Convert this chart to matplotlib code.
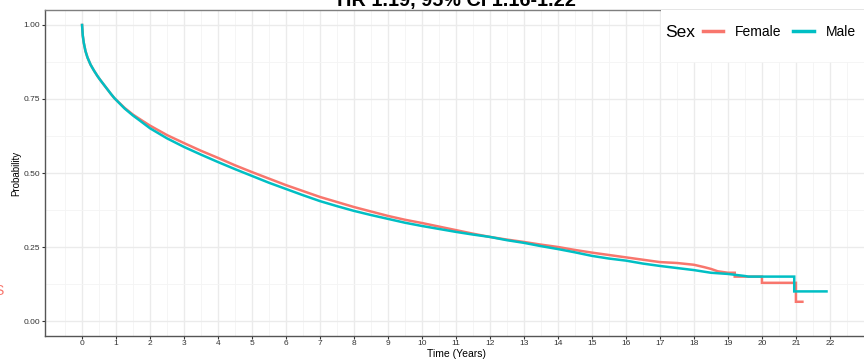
import matplotlib
matplotlib.use("Agg")
import matplotlib.pyplot as plt
from matplotlib.patches import Rectangle
from matplotlib.lines import Line2D
import numpy as np

plt.rcParams['font.family'] = ['Liberation Sans', 'DejaVu Sans']

# Kaplan-Meier style curves
female_t = [0, 0.02, 0.05, 0.1, 0.16, 0.25, 0.35, 0.45, 0.53, 0.65, 0.75, 0.85, 0.95, 1.25, 1.5, 1.7, 2,
            2.5, 3, 3.5, 4, 4.5, 5, 5.5, 6, 6.5, 7, 7.5, 8, 8.5, 9, 9.5, 10,
            10.5, 11, 11.5, 12, 12.5, 13, 13.5, 14, 14.5, 15, 15.5, 16, 16.5,
            17, 17.5, 18, 18.3, 18.5, 18.7, 19, 19.2, 19.2, 20, 20, 21, 21, 21.19]
female_s = [1.0, 0.965, 0.94, 0.912, 0.89, 0.866, 0.846, 0.828, 0.815, 0.797, 0.782, 0.767, 0.753,
            0.72, 0.697, 0.682, 0.66,
            0.628, 0.601, 0.575, 0.551, 0.526, 0.503, 0.481, 0.459, 0.439, 0.419, 0.402, 0.385, 0.37, 0.355, 0.342, 0.331,
            0.319, 0.307, 0.295, 0.284, 0.275, 0.267, 0.258, 0.25, 0.24, 0.231, 0.223, 0.215, 0.207,
            0.199, 0.196, 0.19, 0.182, 0.176, 0.168, 0.163, 0.163, 0.15, 0.15, 0.129, 0.129, 0.065, 0.065]

male_t = [0, 0.02, 0.05, 0.1, 0.16, 0.25, 0.35, 0.45, 0.53, 0.65, 0.75, 0.85, 0.95, 1.25, 1.5, 1.7, 2,
          2.5, 3, 3.5, 4, 4.5, 5, 5.5, 6, 6.5, 7, 7.5, 8, 8.5, 9, 9.5, 10,
          10.5, 11, 11.5, 12, 12.5, 13, 13.5, 14, 14.5, 15, 15.5, 16, 16.5,
          17, 17.5, 18, 18.5, 19, 19.5, 19.6, 20.95, 20.95, 21.9]
male_s = [1.0, 0.965, 0.94, 0.912, 0.89, 0.866, 0.846, 0.828, 0.815, 0.797, 0.782, 0.767, 0.753,
          0.718, 0.694, 0.677, 0.651,
          0.617, 0.588, 0.562, 0.537, 0.513, 0.49, 0.467, 0.446, 0.425, 0.405, 0.388, 0.372, 0.358, 0.345, 0.332, 0.321,
          0.311, 0.301, 0.292, 0.284, 0.273, 0.264, 0.253, 0.243, 0.232, 0.22, 0.211, 0.204, 0.194,
          0.186, 0.179, 0.172, 0.163, 0.159, 0.152, 0.15, 0.15, 0.10, 0.10]

x_ticks = list(range(0, 23))
y_ticks = [0.0, 0.25, 0.5, 0.75, 1.0]
y_tick_labels = ["0.00", "0.25", "0.50", "0.75", "1.00"]

female_col = "#F8766D"
male_col = "#00BFC4"

fig = plt.figure(figsize=(8.64, 3.59), dpi=100)
ax = fig.add_axes([0.0519, 0.0646, 0.948, 0.907])

ax.plot(female_t, female_s, color=female_col, lw=1.8, solid_joinstyle='miter', zorder=3)
ax.plot(male_t, male_s, color=male_col, lw=1.8, solid_joinstyle='miter', zorder=4)

ax.set_xlim(-1.095, 23.0)
ax.set_ylim(-0.05, 1.05)
ax.set_xticks(x_ticks)
ax.set_xticks(np.arange(-0.5, 23, 1.0), minor=True)
ax.set_yticks(y_ticks)
ax.set_yticklabels(y_tick_labels)
ax.set_yticks([0.125, 0.375, 0.625, 0.875], minor=True)

ax.grid(True, which='major', color='#EBEBEB', lw=1.0, zorder=0)
ax.grid(True, which='minor', color='#F4F4F4', lw=0.6, zorder=0)
ax.set_axisbelow(True)

ax.tick_params(which='major', length=2, width=0.8, color='#333333',
               labelsize=6, labelcolor='#333333', pad=1.2)
ax.tick_params(which='minor', length=0)

for s in ['left', 'bottom']:
    ax.spines[s].set_color('#555555')
    ax.spines[s].set_linewidth(1.0)
ax.spines['top'].set_color('#7F7F7F')
ax.spines['top'].set_linewidth(1.0)
ax.spines['right'].set_visible(False)

ax.set_xlabel("Time (Years)", fontsize=7.5)
ax.xaxis.set_label_coords(0.502, -0.0553)
ax.xaxis.label.set_va('center')
ax.set_ylabel("Probability", fontsize=7)
ax.yaxis.set_label_coords(-0.0352, 0.5)
ax.yaxis.label.set_va('center')

# legend box at top right
ax.add_patch(Rectangle((0.7525, 0.841), 0.26, 0.165, transform=ax.transAxes,
                       facecolor='white', edgecolor='none', zorder=5))
ax.text(0.757, 0.932, "Sex", transform=ax.transAxes, fontsize=12.5,
        va='center', ha='left', zorder=6)
handles = [Line2D([], [], color=female_col, lw=2.5),
           Line2D([], [], color=male_col, lw=2.5)]
leg = ax.legend(handles, ["Female", "Male"], ncol=2, frameon=False,
                loc='center left', bbox_to_anchor=(0.8035, 0.932),
                fontsize=10, handlelength=1.45, handletextpad=0.86,
                columnspacing=0.86, borderpad=0, borderaxespad=0)
leg.set_zorder(7)

# title cut off at top of the panel
fig.text(0.528, 0.983, "HR 1.19, 95% CI 1.16-1.22", fontsize=14.3,
         fontweight='bold', ha='center', va='baseline')
# partial red label from neighbouring panel
fig.text(0.004, 0.19, "S", color=female_col, fontsize=10, ha='right', va='center')

fig.savefig("out.png", dpi=100)
